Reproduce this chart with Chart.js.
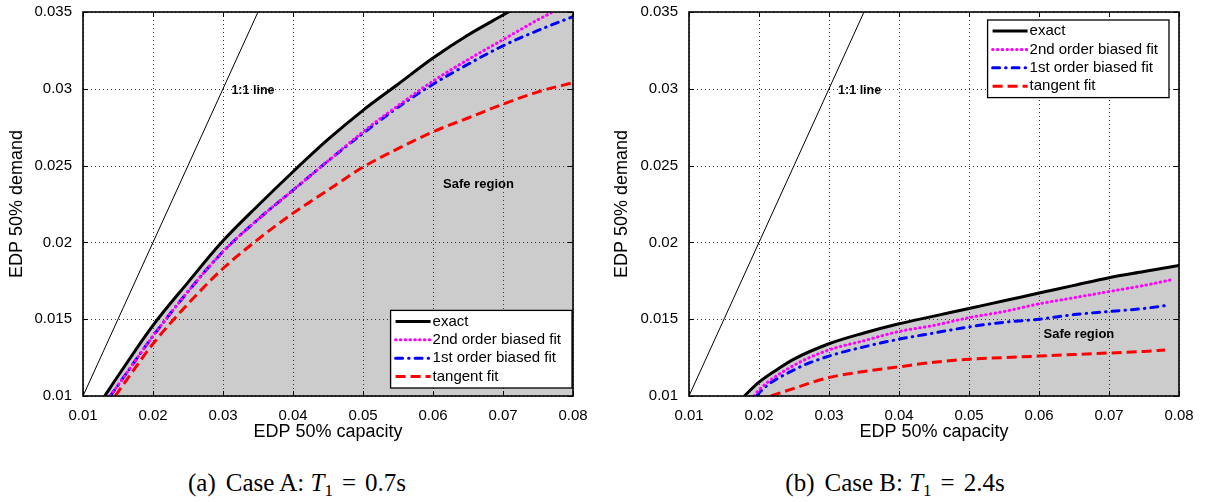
<!DOCTYPE html>
<html>
<head>
<meta charset="utf-8">
<script src="https://cdn.jsdelivr.net/npm/chart.js@4.4.0/dist/chart.umd.min.js"></script>
<style>
  body { margin: 0; background: #fff; }
  #page { position: relative; width: 1209px; height: 502px; overflow: hidden; }
  .panel { position: absolute; top: 0; height: 450px; }
  .cap { position: absolute; top: 469px; width: 400px; text-align: center; white-space: nowrap;
         font-family: "Liberation Serif", "Times New Roman", serif; font-size: 25px; color: #000; }
  .cap sub { font-size: 17px; vertical-align: -5px; line-height: 0; }
  .cap .eq { margin: 0 9px; }
  .cap .tag { margin-right: 10px; }
</style>
</head>
<body>
<div id="page">
  <div class="panel" style="left:0; width:600px"><canvas id="caseA"></canvas></div>
  <div class="panel" style="left:605px; width:604px"><canvas id="caseB"></canvas></div>
  <div class="cap" style="left:97px"><span class="tag">(a)</span>Case A: <i>T</i><sub>1</sub><span class="eq">=</span>0.7s</div>
  <div class="cap" style="left:695px"><span class="tag">(b)</span>Case B: <i>T</i><sub>1</sub><span class="eq">=</span>2.4s</div>
</div>
<script>
var xTicks = ['0.01', '0.02', '0.03', '0.04', '0.05', '0.06', '0.07', '0.08']
var yTicks = ['0.01', '0.015', '0.02', '0.025', '0.03', '0.035']
var seriesNames = ['exact', '2nd order biased fit', '1st order biased fit', 'tangent fit']

// 1:1 reference line (same in both cases)
var unitX = [0.01, 0.035]
var unitY = [0.01, 0.035]

// Case A: T1 = 0.7s
var exactA_x = [0.0131, 0.015, 0.02, 0.025, 0.03, 0.035, 0.04, 0.045, 0.05, 0.055, 0.06, 0.065, 0.07, 0.075, 0.08]
var exactA_y = [0.0100, 0.0113, 0.0146, 0.0174, 0.0201, 0.0224, 0.0246, 0.0267, 0.0286, 0.0303, 0.0320, 0.0335, 0.0348, 0.0361, 0.0373]
var secondA_x = [0.0139, 0.015, 0.02, 0.025, 0.03, 0.035, 0.04, 0.045, 0.05, 0.055, 0.06, 0.065, 0.07, 0.075, 0.0771]
var secondA_y = [0.0100, 0.0107, 0.0139, 0.0168, 0.0194, 0.0215, 0.0234, 0.0253, 0.0272, 0.0289, 0.0305, 0.0319, 0.0332, 0.0345, 0.0350]
var firstA_x = [0.0139, 0.015, 0.02, 0.025, 0.03, 0.035, 0.04, 0.045, 0.05, 0.055, 0.06, 0.065, 0.07, 0.075, 0.08]
var firstA_y = [0.0100, 0.0107, 0.0139, 0.0168, 0.0194, 0.0215, 0.0234, 0.0253, 0.0271, 0.0288, 0.0303, 0.0316, 0.0328, 0.0338, 0.0347]
var tangentA_x = [0.0146, 0.02, 0.025, 0.03, 0.035, 0.04, 0.045, 0.05, 0.055, 0.06, 0.065, 0.07, 0.075, 0.08]
var tangentA_y = [0.0100, 0.0134, 0.0160, 0.0183, 0.0202, 0.0219, 0.0234, 0.0249, 0.0261, 0.0272, 0.0281, 0.0290, 0.0298, 0.0304]

// Case B: T1 = 2.4s
var exactB_x = [0.0179, 0.02, 0.0225, 0.025, 0.03, 0.035, 0.04, 0.045, 0.05, 0.055, 0.06, 0.065, 0.07, 0.075, 0.08]
var exactB_y = [0.0100, 0.0109, 0.0117, 0.0124, 0.0134, 0.0141, 0.0147, 0.0152, 0.0157, 0.0162, 0.0167, 0.0172, 0.0177, 0.0181, 0.0185]
var secondB_x = [0.0193, 0.02, 0.025, 0.03, 0.035, 0.04, 0.045, 0.05, 0.055, 0.06, 0.065, 0.07, 0.075, 0.0793]
var secondB_y = [0.0100, 0.0104, 0.0120, 0.0130, 0.0136, 0.0142, 0.0146, 0.0151, 0.0155, 0.0160, 0.0164, 0.0168, 0.0172, 0.0176]
var firstB_x = [0.0197, 0.02, 0.025, 0.03, 0.035, 0.04, 0.045, 0.05, 0.055, 0.06, 0.065, 0.07, 0.075, 0.0783]
var firstB_y = [0.0100, 0.0102, 0.0117, 0.0126, 0.0132, 0.0137, 0.0141, 0.0145, 0.0148, 0.0150, 0.0153, 0.0155, 0.0157, 0.0159]
var tangentB_x = [0.0217, 0.025, 0.03, 0.035, 0.04, 0.045, 0.05, 0.055, 0.06, 0.065, 0.07, 0.075, 0.078]
var tangentB_y = [0.0100, 0.0105, 0.0112, 0.0116, 0.0119, 0.0122, 0.0124, 0.0125, 0.0126, 0.0127, 0.0128, 0.0129, 0.0130]

var sansFont = '"Liberation Sans", Arial, Helvetica, sans-serif'
Chart.defaults.font.family = sansFont
Chart.defaults.color = '#000'

function pts(xs, ys) {
    return xs.map(function (x, i) { return { x: x, y: ys[i] } })
}

var lineStyles = [
    { borderColor: '#000000', borderWidth: 3, borderDash: [], borderCapStyle: 'butt' },
    { borderColor: '#ff00ff', borderWidth: 3, borderDash: [0.5, 4.3], borderCapStyle: 'round' },
    { borderColor: '#0000ff', borderWidth: 3, borderDash: [7, 6, 0.5, 6], borderCapStyle: 'round' },
    { borderColor: '#ff0000', borderWidth: 3, borderDash: [10, 5], borderCapStyle: 'butt' }
]

function buildDatasets(curves) {
    var sets = curves.map(function (c, i) {
        var s = lineStyles[i]
        return {
            label: seriesNames[i],
            inLegend: true,
            data: pts(c[0], c[1]),
            borderColor: s.borderColor,
            borderWidth: s.borderWidth,
            borderDash: s.borderDash,
            borderCapStyle: s.borderCapStyle,
            pointRadius: 0,
            cubicInterpolationMode: 'monotone',
            // the exact curve bounds the grey safe region
            fill: i === 0 ? 'start' : false,
            backgroundColor: '#cccccc'
        }
    })
    sets.push({
        label: '1:1 line',
        inLegend: false,
        data: pts(unitX, unitY),
        borderColor: '#000',
        borderWidth: 1,
        pointRadius: 0,
        fill: false
    })
    return sets
}

function line(ctx, x1, y1, x2, y2) {
    ctx.beginPath()
    ctx.moveTo(x1, y1)
    ctx.lineTo(x2, y2)
    ctx.stroke()
}

// dotted grid on top of the shaded area, then frame, inner ticks, notes and legend
var framePlugin = {
    id: 'frame',
    beforeDatasetsDraw: function (chart) {
        var ctx = chart.ctx, a = chart.chartArea
        var sx = chart.scales.x, sy = chart.scales.y
        ctx.save()
        ctx.strokeStyle = '#333'
        ctx.lineWidth = 1
        ctx.setLineDash([1, 3])
        sx.ticks.forEach(function (t) {
            var px = Math.round(sx.getPixelForValue(t.value)) + 0.5
            line(ctx, px, a.top, px, a.bottom)
        })
        sy.ticks.forEach(function (t) {
            var py = Math.round(sy.getPixelForValue(t.value)) + 0.5
            line(ctx, a.left, py, a.right, py)
        })
        ctx.restore()
    },
    afterDatasetsDraw: function (chart, args, opts) {
        var ctx = chart.ctx, a = chart.chartArea
        var sx = chart.scales.x, sy = chart.scales.y
        ctx.save()
        ctx.setLineDash([])
        ctx.strokeStyle = '#000'
        ctx.lineWidth = 1
        sx.ticks.forEach(function (t) {
            var px = Math.round(sx.getPixelForValue(t.value)) + 0.5
            line(ctx, px, a.bottom, px, a.bottom - 5)
            line(ctx, px, a.top, px, a.top + 5)
        })
        sy.ticks.forEach(function (t) {
            var py = Math.round(sy.getPixelForValue(t.value)) + 0.5
            line(ctx, a.left, py, a.left + 5, py)
            line(ctx, a.right, py, a.right - 5, py)
        })
        ctx.lineWidth = 1.6
        ctx.strokeRect(a.left, a.top, a.right - a.left, a.bottom - a.top)

        // text notes placed in data units
        ctx.fillStyle = '#000'
        ctx.textBaseline = 'middle'
        opts.notes.forEach(function (n) {
            ctx.font = n.font
            ctx.textAlign = n.align
            ctx.fillText(n.text, sx.getPixelForValue(n.x), sy.getPixelForValue(n.y))
        })

        // legend box
        var items = chart.data.datasets.filter(function (d) { return d.inLegend })
        ctx.font = '15px ' + sansFont
        var textW = Math.max.apply(null, items.map(function (d) { return ctx.measureText(d.label).width }))
        var rowH = 18.4
        var w = 42 + textW + 11
        var h = rowH * items.length + 4
        var lg = opts.legend
        var bx = a.right - lg.right - w
        var by = lg.top !== undefined ? a.top + lg.top : a.bottom - lg.bottom - h
        ctx.fillStyle = '#fff'
        ctx.fillRect(bx, by, w, h)
        ctx.lineWidth = 1.3
        ctx.strokeStyle = '#000'
        ctx.strokeRect(bx, by, w, h)
        items.forEach(function (d, i) {
            var ry = by + 11 + i * rowH
            ctx.strokeStyle = d.borderColor
            ctx.lineWidth = d.borderWidth
            ctx.lineCap = d.borderCapStyle
            ctx.setLineDash(d.borderDash)
            line(ctx, bx + 5, ry, bx + 40, ry)
            ctx.setLineDash([])
            ctx.fillStyle = '#000'
            ctx.textAlign = 'left'
            ctx.fillText(d.label, bx + 42, ry)
        })
        ctx.restore()
    }
}

function tickSetter(labels) {
    return function (scale) {
        scale.ticks = labels.map(function (l) { return { value: parseFloat(l), label: l } })
    }
}

function makeChart(id, curves, axisWidth, rightPad, notes, legend) {
    new Chart(document.getElementById(id), {
        type: 'line',
        data: { datasets: buildDatasets(curves) },
        options: {
            responsive: true,
            maintainAspectRatio: false,
            animation: false,
            layout: { padding: { top: 9, right: rightPad, left: 0, bottom: 0 } },
            plugins: {
                legend: { display: false },
                tooltip: { enabled: false },
                filler: { drawTime: 'beforeDatasetsDraw' },
                frame: { notes: notes, legend: legend }
            },
            scales: {
                x: {
                    type: 'linear',
                    min: 0.01,
                    max: 0.08,
                    afterBuildTicks: tickSetter(xTicks),
                    afterFit: function (s) { s.height = 54 },
                    grid: { display: false },
                    border: { display: false },
                    ticks: { font: { size: 15 }, padding: 3, maxRotation: 0, autoSkip: false,
                             callback: function (v) { return xTicks.find(function (l) { return parseFloat(l) === v }) } },
                    title: { display: true, text: 'EDP 50% capacity', font: { size: 18 }, padding: { top: 4, bottom: 7 } }
                },
                y: {
                    type: 'linear',
                    min: 0.01,
                    max: 0.035,
                    afterBuildTicks: tickSetter(yTicks),
                    afterFit: function (s) { s.width = axisWidth },
                    grid: { display: false },
                    border: { display: false },
                    ticks: { font: { size: 15 }, padding: 3, autoSkip: false,
                             callback: function (v) { return yTicks.find(function (l) { return parseFloat(l) === v }) } },
                    title: { display: true, text: 'EDP 50% demand', font: { size: 18 }, padding: { top: 6, bottom: 4 } }
                }
            }
        },
        plugins: [framePlugin]
    })
}

makeChart('caseA',
    [[exactA_x, exactA_y], [secondA_x, secondA_y], [firstA_x, firstA_y], [tangentA_x, tangentA_y]],
    83, 27,
    [{ text: '1:1 line', x: 0.0312, y: 0.0299, align: 'left', font: 'bold 12.5px ' + sansFont },
     { text: 'Safe region', x: 0.0665, y: 0.0238, align: 'center', font: 'bold 13px ' + sansFont }],
    { right: 1, bottom: 8 })

makeChart('caseB',
    [[exactB_x, exactB_y], [secondB_x, secondB_y], [firstB_x, firstB_y], [tangentB_x, tangentB_y]],
    84, 30,
    [{ text: '1:1 line', x: 0.0313, y: 0.0299, align: 'left', font: 'bold 12.5px ' + sansFont },
     { text: 'Safe region', x: 0.0657, y: 0.0140, align: 'center', font: 'bold 13px ' + sansFont }],
    { right: 10, top: 8 })
</script>
</body>
</html>
